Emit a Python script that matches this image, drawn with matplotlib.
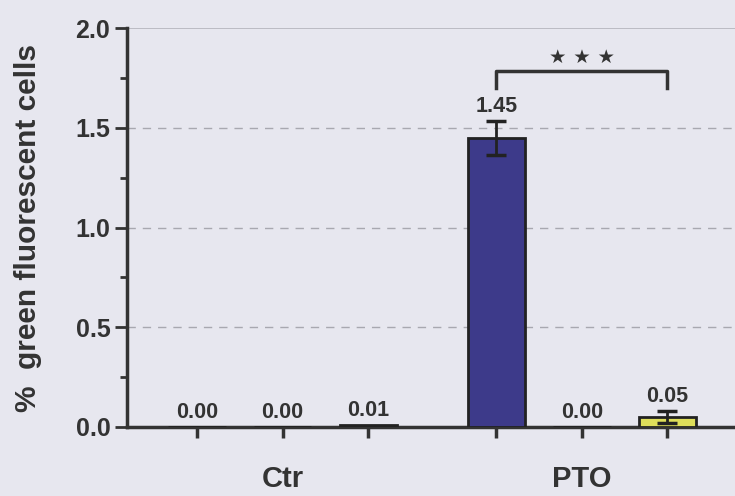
import numpy as np
import matplotlib
matplotlib.use('Agg')
import matplotlib.pyplot as plt
from matplotlib.ticker import MultipleLocator, FormatStrFormatter

# data
positions = [0, 1, 2, 3.5, 4.5, 5.5]
values = [0.00, 0.00, 0.01, 1.45, 0.00, 0.05]
errors = [0.0, 0.0, 0.0, 0.085, 0.0, 0.03]
bar_colors = ['#3a3a3a', '#3a3a3a', '#3a2a20', '#3d3a8a', '#e8e8e8', '#dede5a']
group_labels = ['Ctr', 'PTO']
group_pos = [1, 4.5]
signif = '\u2605 \u2605 \u2605'

plt.rcParams['font.family'] = ['Liberation Sans', 'DejaVu Sans']
plt.rcParams['font.weight'] = 'bold'

bg = '#e7e7ef'
txt = '#333333'

fig = plt.figure(figsize=(7.35, 4.96), dpi=100, facecolor=bg)
ax = fig.add_axes([127/735, 1-427/496, 1-127/735, (427-28)/496])
ax.set_facecolor(bg)

ax.bar(positions, values, width=0.67, color=bar_colors, edgecolor='#222222', linewidth=2, zorder=3)
for p, v, e in zip(positions, values, errors):
    if e > 0:
        ax.errorbar(p, v, yerr=e, fmt='none', ecolor='#222222', elinewidth=2, capsize=7, capthick=2.5, zorder=4)
    top = v + e
    ax.text(p, top + 0.018, '%.2f' % v, ha='center', va='bottom', fontsize=15.5, color=txt, fontweight='bold', zorder=5)

# significance bracket
y_br = 1.785
ax.plot([3.5, 3.5, 5.5, 5.5], [1.70, y_br, y_br, 1.70], color='#333333', lw=2.5, zorder=5)
ax.text(4.5, 1.855, signif, ha='center', va='center', fontsize=14, color=txt,
        family=['DejaVu Sans'])

ax.set_ylim(0, 2.0)
ax.set_xlim(-0.82, 6.29)
ax.yaxis.set_major_locator(MultipleLocator(0.5))
ax.yaxis.set_minor_locator(MultipleLocator(0.25))
ax.yaxis.set_major_formatter(FormatStrFormatter('%.1f'))
for yv in [0.5, 1.0, 1.5]:
    ax.axhline(yv, color='#a8a8b0', lw=1, ls=(0, (6, 5)), zorder=1)
ax.axhline(2.0, color='#b4b4bc', lw=1.2, zorder=1)

ax.set_xticks(positions)
ax.set_xticklabels([''] * len(positions))
ax.tick_params(axis='x', direction='out', length=8, width=2.5, color='#333333')
ax.tick_params(axis='y', which='major', direction='out', length=9, width=2, color='#333333',
               labelsize=18, labelcolor=txt, pad=3)
ax.tick_params(axis='y', which='minor', direction='out', length=5, width=2, color='#333333')
for lab in ax.get_yticklabels():
    lab.set_fontweight('bold')

for s in ['top', 'right']:
    ax.spines[s].set_visible(False)
ax.spines['left'].set_linewidth(2.5)
ax.spines['bottom'].set_linewidth(2.5)
ax.spines['left'].set_color('#333333')
ax.spines['bottom'].set_color('#333333')

for gl, gp in zip(group_labels, group_pos):
    ax.text(gp, -0.19, gl, ha='center', va='top', fontsize=21, color=txt,
            fontweight='bold', clip_on=False)

ax.set_ylabel('%  green fluorescent cells', fontsize=21.5, color=txt, fontweight='bold', labelpad=24)

fig.savefig('out.png', dpi=100, facecolor=bg)
